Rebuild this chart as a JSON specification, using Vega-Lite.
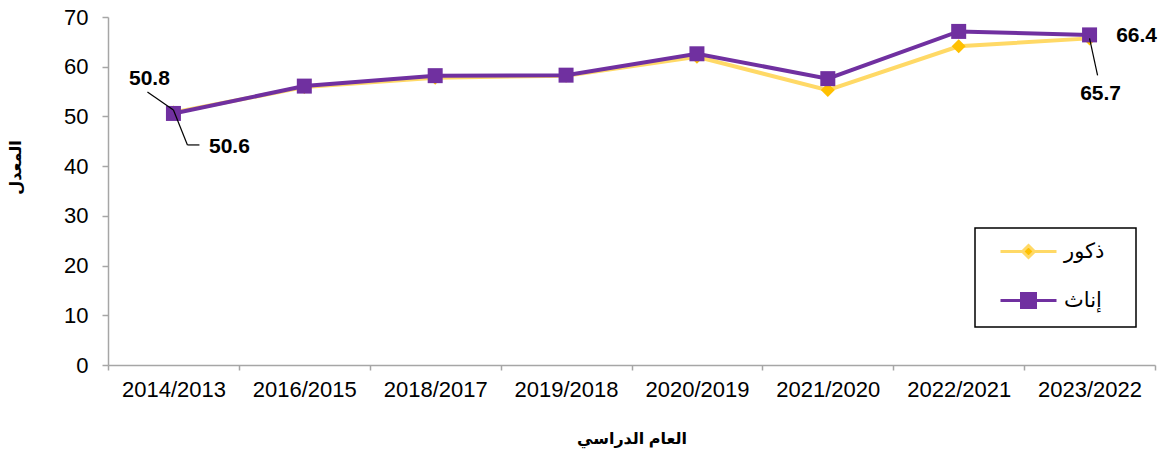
{
  "$schema": "https://vega.github.io/schema/vega-lite/v6.json",
  "width": 1047,
  "height": 348,
  "autosize": {"type": "none"},
  "padding": {"left": 108, "top": 17, "right": 7, "bottom": 94},
  "background": "white",
  "config": {
    "view": {"stroke": null},
    "font": "Liberation Sans, Arial, DejaVu Sans",
    "text": {"font": "Liberation Sans, Arial, DejaVu Sans"}
  },
  "datasets": {
    "rates": [
      {"year": "2014/2013", "series": "ذكور", "value": 50.8},
      {"year": "2016/2015", "series": "ذكور", "value": 55.9},
      {"year": "2018/2017", "series": "ذكور", "value": 57.8},
      {"year": "2019/2018", "series": "ذكور", "value": 58.2},
      {"year": "2020/2019", "series": "ذكور", "value": 62.0},
      {"year": "2021/2020", "series": "ذكور", "value": 55.3},
      {"year": "2022/2021", "series": "ذكور", "value": 64.1},
      {"year": "2023/2022", "series": "ذكور", "value": 65.7},
      {"year": "2014/2013", "series": "إناث", "value": 50.6},
      {"year": "2016/2015", "series": "إناث", "value": 56.1},
      {"year": "2018/2017", "series": "إناث", "value": 58.2},
      {"year": "2019/2018", "series": "إناث", "value": 58.3},
      {"year": "2020/2019", "series": "إناث", "value": 62.6},
      {"year": "2021/2020", "series": "إناث", "value": 57.6},
      {"year": "2022/2021", "series": "إناث", "value": 67.1},
      {"year": "2023/2022", "series": "إناث", "value": 66.4}
    ]
  },
  "data": {"name": "rates"},
  "encoding": {
    "x": {
      "field": "year",
      "type": "nominal",
      "sort": null,
      "scale": {"paddingInner": 0, "paddingOuter": 0},
      "axis": {
        "title": "العام الدراسي",
        "labelAngle": 0,
        "tickBand": "extent",
        "tickSize": 5,
        "labelFontSize": 22,
        "labelColor": "black",
        "labelPadding": 9,
        "titlePadding": 30,
        "titleFontSize": 16,
        "titleFontWeight": "bold",
        "titleColor": "black",
        "domainColor": "#A6A6A6",
        "tickColor": "#A6A6A6",
        "domainWidth": 1.5,
        "tickWidth": 1.5
      }
    },
    "y": {
      "field": "value",
      "type": "quantitative",
      "scale": {"domain": [0, 70], "nice": false},
      "axis": {
        "title": "المعدل",
        "values": [0, 10, 20, 30, 40, 50, 60, 70],
        "grid": false,
        "tickSize": 6,
        "labelFontSize": 22,
        "labelColor": "black",
        "labelPadding": 14,
        "titlePadding": 40,
        "titleFontSize": 16,
        "titleFontWeight": "bold",
        "titleColor": "black",
        "titleY": 150,
        "domainColor": "#A6A6A6",
        "tickColor": "#A6A6A6",
        "domainWidth": 1.5,
        "tickWidth": 1.5
      }
    }
  },
  "layer": [
    {
      "mark": {"type": "line", "strokeWidth": 4},
      "encoding": {
        "color": {
          "field": "series",
          "type": "nominal",
          "scale": {"domain": ["ذكور", "إناث"], "range": ["#FFD966", "#7030A0"]},
          "legend": {
            "title": " ",
            "titleOrient": "right",
            "titlePadding": 19,
            "titleFontSize": 10,
            "orient": "none",
            "legendX": 867,
            "legendY": 211,
            "fillColor": "white",
            "strokeColor": "black",
            "padding": 13,
            "labelFontSize": 21,
            "labelColor": "black",
            "labelFont": "Liberation Sans, Arial, DejaVu Sans",
            "symbolSize": 196,
            "rowPadding": 23,
            "labelOffset": 25,
            "symbolOffset": 30,
            "encode": {
              "legend": {"update": {"strokeWidth": {"value": 1.5}}},
              "symbols": {
                "update": {
                  "shape": {"signal": "datum.value === 'ذكور' ? 'M-4,0H-0.9M0.9,0H4M0,-0.85L0.85,0L0,0.85L-0.85,0Z' : 'M-4,0H-1M1,0H4M-1,-1H1V1H-1Z'"},
                  "fill": {"signal": "datum.value === 'ذكور' ? '#FFC000' : '#7030A0'"},
                  "strokeWidth": {"value": 3},
                  "size": {"value": 196},
                  "opacity": {"value": 1}
                }
              }
            }
          }
        }
      }
    },
    {
      "transform": [{"filter": "datum.series === 'ذكور'"}],
      "mark": {"type": "point", "filled": true, "opacity": 1, "shape": "diamond", "size": 196, "color": "#FFC000"}
    },
    {
      "transform": [{"filter": "datum.series === 'إناث'"}],
      "mark": {"type": "point", "filled": true, "opacity": 1, "shape": "square", "size": 225, "color": "#7030A0"}
    },
    {
      "transform": [{"filter": "datum.series === 'ذكور' && datum.year === '2014/2013'"}],
      "mark": {"type": "rule", "color": "black", "strokeWidth": 1.2, "xOffset": -26, "yOffset": -20.5, "x2Offset": 0, "y2Offset": -2.5},
      "encoding": {"x2": {"field": "year"}, "y2": {"field": "value"}}
    },
    {
      "transform": [{"filter": "datum.series === 'إناث' && datum.year === '2014/2013'"}],
      "mark": {"type": "rule", "color": "black", "strokeWidth": 1.2, "xOffset": 0, "yOffset": -3.5, "x2Offset": 14, "y2Offset": 31.5},
      "encoding": {"x2": {"field": "year"}, "y2": {"field": "value"}}
    },
    {
      "transform": [{"filter": "datum.series === 'إناث' && datum.year === '2014/2013'"}],
      "mark": {"type": "rule", "color": "black", "strokeWidth": 1.2, "xOffset": 14, "yOffset": 31.5, "x2Offset": 26, "y2Offset": 31.5},
      "encoding": {"x2": {"field": "year"}, "y2": {"field": "value"}}
    },
    {
      "transform": [{"filter": "datum.series === 'ذكور' && datum.year === '2023/2022'"}],
      "mark": {"type": "rule", "color": "black", "strokeWidth": 1.2, "xOffset": 0, "yOffset": 0, "x2Offset": 8, "y2Offset": 37},
      "encoding": {"x2": {"field": "year"}, "y2": {"field": "value"}}
    },
    {
      "transform": [{"filter": "datum.series === 'ذكور' && datum.year === '2014/2013'"}],
      "mark": {"type": "text", "fontSize": 21, "fontWeight": "bold", "color": "black", "dx": -24, "dy": -33.5},
      "encoding": {"text": {"field": "value", "type": "quantitative", "format": ".1f"}}
    },
    {
      "transform": [{"filter": "datum.series === 'إناث' && datum.year === '2014/2013'"}],
      "mark": {"type": "text", "fontSize": 21, "fontWeight": "bold", "color": "black", "dx": 56, "dy": 33.5},
      "encoding": {"text": {"field": "value", "type": "quantitative", "format": ".1f"}}
    },
    {
      "transform": [{"filter": "datum.series === 'إناث' && datum.year === '2023/2022'"}],
      "mark": {"type": "text", "fontSize": 21, "fontWeight": "bold", "color": "black", "dx": 47, "dy": 1},
      "encoding": {"text": {"field": "value", "type": "quantitative", "format": ".1f"}}
    },
    {
      "transform": [{"filter": "datum.series === 'ذكور' && datum.year === '2023/2022'"}],
      "mark": {"type": "text", "fontSize": 21, "fontWeight": "bold", "color": "black", "dx": 11, "dy": 55.6},
      "encoding": {"text": {"field": "value", "type": "quantitative", "format": ".1f"}}
    }
  ]
}
